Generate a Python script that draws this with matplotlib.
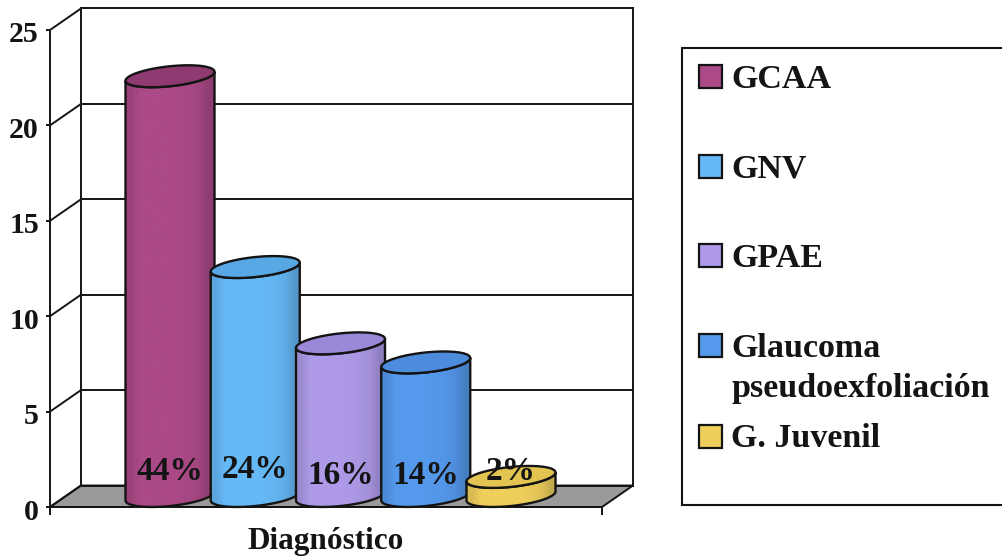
#!/usr/bin/env python3
"""Glaucoma diagnosis counts as 3D-look cylinders, with a boxed legend on the right."""
import matplotlib
matplotlib.use("Agg")
import matplotlib.pyplot as plt
import numpy as np
from matplotlib.colors import to_rgb
from matplotlib.patches import Polygon, Rectangle
from matplotlib.transforms import ScaledTranslation

CATEGORIES = ["GCAA", "GNV", "GPAE", "Glaucoma\npseudoexfoliación", "G. Juvenil"]
VALUES = [22, 12, 8, 7, 1]
PERCENT = ["44%", "24%", "16%", "14%", "2%"]
YTICKS = [0, 5, 10, 15, 20, 25]
XLABEL = "Diagnóstico"

SIDE_COLORS = ["#ab4a87", "#66b9f7", "#ae9ae8", "#5599ec", "#efcf5c"]
TOP_COLORS = ["#8f3a70", "#58a8e6", "#9c88d8", "#4d8cdc", "#e3c450"]

W, H = 1002, 556
LEFT, RIGHT, TOP, BOTTOM = 50, 602, 30, 507    # front plane, pixels
DEPTH_X, DEPTH_Y = 31, 21.5                    # shift from front plane to back wall
BAR_X0, BAR_STEP = 120, 85.25                  # first bar centre, spacing (px from LEFT)
RX, RY, TILT = 44.5, 10, 4.5                   # cylinder ellipse
BASE_LIFT = 11                                 # bar base sits this far behind the front edge
LABEL_LIFT = [35, 38, 32, 32, 36]              # percent label height above the front edge
INK = "#141414"
SERIF = ["Liberation Serif", "DejaVu Serif"]

fig = plt.figure(figsize=(W / 100, H / 100), dpi=100)
ax = fig.add_axes([LEFT / W, 1 - BOTTOM / H, (RIGHT - LEFT) / W, (BOTTOM - TOP) / H])
xmax = RIGHT - LEFT
ypx = 25 / (BOTTOM - TOP)                      # data units per pixel


def wall_line(xs, ys, lw=1.4, z=2):
    ax.plot(xs, ys, color=INK, lw=lw, zorder=z, clip_on=False, solid_capstyle="projecting")


def ellipse(cx, cy, start, stop):
    t = np.linspace(start, stop, 60)
    x = cx + RX * np.cos(t)
    y = cy + (RY * np.sin(t) + TILT * np.cos(t)) * ypx
    return np.column_stack([x, y])


# floor and back walls
back = DEPTH_Y * ypx
ax.add_patch(Polygon([(0, 0), (xmax, 0), (xmax + DEPTH_X, back), (DEPTH_X, back)],
                     closed=True, fc="#9a9a9a", ec=INK, lw=1.4, zorder=1, clip_on=False))
for v in YTICKS:
    wall_line([DEPTH_X, xmax + DEPTH_X], [v + back, v + back])
    wall_line([0, DEPTH_X], [v, v + back])
wall_line([DEPTH_X, DEPTH_X], [back, 25 + back])
wall_line([xmax + DEPTH_X, xmax + DEPTH_X], [back, 25 + back])

# cylinders, later ones overlap earlier ones
for i, (val, side, top) in enumerate(zip(VALUES, SIDE_COLORS, TOP_COLORS)):
    cx = BAR_X0 + BAR_STEP * i
    base = BASE_LIFT * ypx
    z = 3 + i
    low = ellipse(cx, base, np.pi, 2 * np.pi)
    high = ellipse(cx, base + val, 2 * np.pi, np.pi)
    body = Polygon(np.vstack([low, high]), closed=True, fc="none", ec=INK, lw=1.7, zorder=z + 0.2,
                   clip_on=False)
    ax.add_patch(body)
    shade = np.array([0.90, 1, 1, 1, 1, 0.99, 0.97, 0.93, 0.82])
    strip = (np.array(to_rgb(side))[None, :] * shade[:, None])[None, :, :]
    img = ax.imshow(strip, extent=[cx - RX, cx + RX, 0, base + val + RY * ypx], aspect="auto",
                    interpolation="bilinear", zorder=z, clip_on=True)
    img.set_clip_path(Polygon(np.vstack([low, high]), closed=True, transform=ax.transData))
    ax.add_patch(Polygon(ellipse(cx, base + val, 0, 2 * np.pi), closed=True, fc=top, ec=INK,
                         lw=1.7, zorder=z + 0.4, clip_on=False))
    ax.text(cx, LABEL_LIFT[i] * ypx, PERCENT[i], ha="center", va="center", family=SERIF,
            weight="bold", fontsize=24, color=INK, zorder=20)

ax.set_xlim(0, xmax)
ax.set_ylim(0, 25)
ax.set_facecolor("none")
for name in ("top", "right"):
    ax.spines[name].set_visible(False)
for name in ("left", "bottom"):
    ax.spines[name].set_color(INK)
    ax.spines[name].set_linewidth(1.4)
    ax.spines[name].set_zorder(2.5)
ax.set_yticks(YTICKS)
ax.set_xticks([0, xmax])
ax.set_xticklabels([])
ax.tick_params(axis="y", length=3, width=1.4, color=INK, pad=5)
ax.tick_params(axis="x", length=6, width=1.4, color=INK)
nudge = ScaledTranslation(0, -2 / 100, fig.dpi_scale_trans)
for lab in ax.get_yticklabels():
    lab.set_fontfamily(SERIF)
    lab.set_fontweight("bold")
    lab.set_fontsize(21.5)
    lab.set_color(INK)
    lab.set_transform(lab.get_transform() + nudge)
ax.set_xlabel(XLABEL, family=SERIF, weight="bold", fontsize=22.5, color=INK, labelpad=5)

# legend box runs off the right edge of the figure
legend_left, legend_top, legend_bottom = 682, 48, 505
fig.add_artist(Rectangle((legend_left / W, 1 - legend_bottom / H), (W + 10 - legend_left) / W,
                         (legend_bottom - legend_top) / H, transform=fig.transFigure,
                         fc="white", ec=INK, lw=1.5))
swatch_tops = [65, 155, 244, 334, 425]
baselines = [88, 178, 267, 357, 447]
for name, color, sw, base_y in zip(CATEGORIES, SIDE_COLORS, swatch_tops, baselines):
    fig.add_artist(Rectangle((699 / W, 1 - (sw + 23) / H), 23 / W, 23 / H,
                             transform=fig.transFigure, fc=color, ec=INK, lw=1.6))
    for k, part in enumerate(name.split("\n")):
        fig.text(731 / W, 1 - (base_y + 40 * k) / H, part, family=SERIF, weight="bold",
                 fontsize=24.5, color=INK, va="baseline")

fig.savefig("out.png", dpi=100)
